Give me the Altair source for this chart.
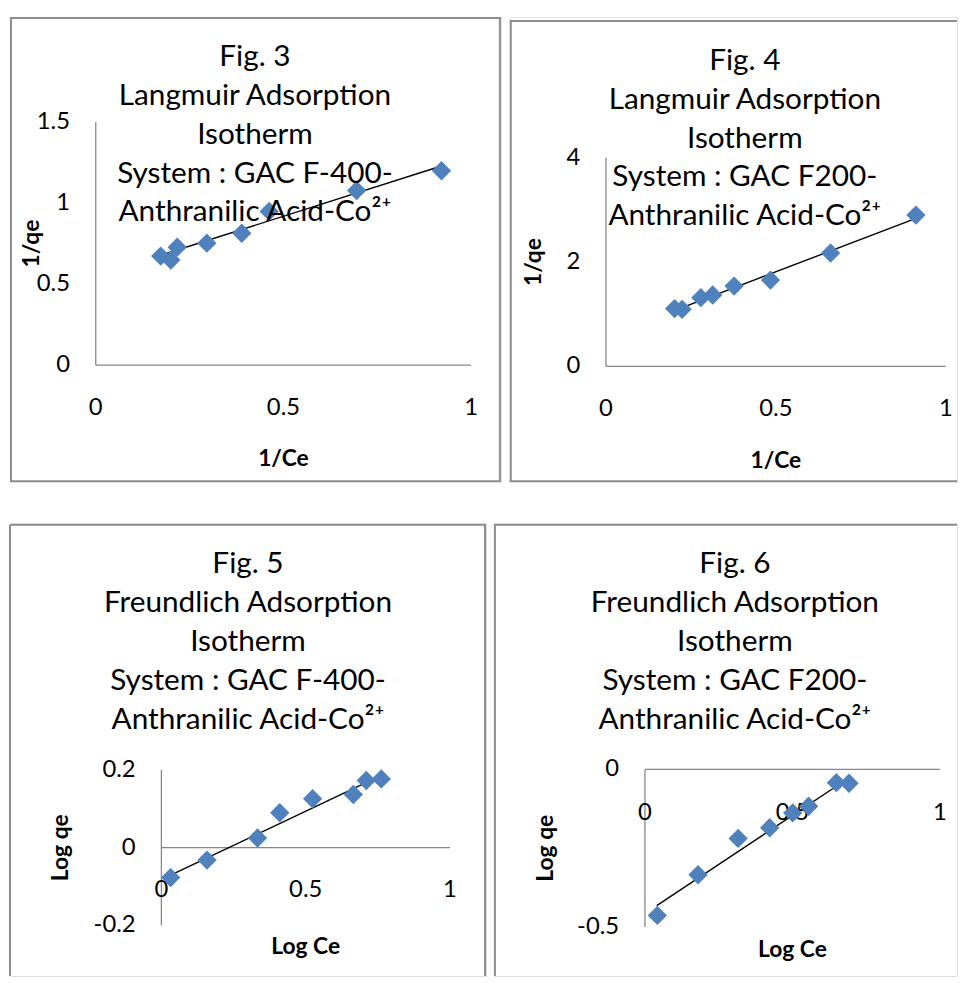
import altair as alt
import pandas as pd

# ---------------- data ----------------
# Fig. 3  Langmuir, GAC F-400
f3_x = [0.173, 0.200, 0.217, 0.296, 0.389, 0.462, 0.695, 0.921]
f3_y = [0.673, 0.649, 0.728, 0.753, 0.814, 0.949, 1.078, 1.200]
f3_fit_x = [0.173, 0.921]
f3_fit_y = [0.678, 1.229]
f3_xticks = [0, 0.5, 1]
f3_yticks = [0, 0.5, 1, 1.5]

# Fig. 4  Langmuir, GAC F200
f4_x = [0.202, 0.224, 0.279, 0.314, 0.377, 0.484, 0.661, 0.912]
f4_y = [1.109, 1.095, 1.318, 1.369, 1.540, 1.655, 2.174, 2.902]
f4_fit_x = [0.205, 0.912]
f4_fit_y = [1.080, 2.840]
f4_xticks = [0, 0.5, 1]
f4_yticks = [0, 2, 4]

# Fig. 5  Freundlich, GAC F-400
f5_x = [0.032, 0.158, 0.333, 0.410, 0.524, 0.665, 0.710, 0.762]
f5_y = [-0.077, -0.032, 0.025, 0.090, 0.126, 0.137, 0.173, 0.177]
f5_fit_x = [0.034, 0.762]
f5_fit_y = [-0.070, 0.186]
f5_xticks = [0, 0.5, 1]
f5_yticks = [-0.2, 0, 0.2]

# Fig. 6  Freundlich, GAC F200
f6_x = [0.042, 0.180, 0.316, 0.423, 0.501, 0.555, 0.649, 0.692]
f6_y = [-0.463, -0.334, -0.219, -0.185, -0.138, -0.117, -0.042, -0.044]
f6_fit_x = [0.040, 0.695]
f6_fit_y = [-0.432, -0.025]
f6_xticks = [0, 0.5, 1]
f6_yticks = [-0.5, 0]

titles = {
    3: ["Fig. 3", "Langmuir Adsorption", "Isotherm", "System : GAC F-400-", "Anthranilic Acid-Co\u00b2\u207a"],
    4: ["Fig. 4", "Langmuir Adsorption", "Isotherm", "System : GAC F200-", "Anthranilic Acid-Co\u00b2\u207a"],
    5: ["Fig. 5", "Freundlich Adsorption", "Isotherm", "System : GAC F-400-", "Anthranilic Acid-Co\u00b2\u207a"],
    6: ["Fig. 6", "Freundlich Adsorption", "Isotherm", "System : GAC F200-", "Anthranilic Acid-Co\u00b2\u207a"],
}

FONT = "Lato"
BLUE = "#4F81BD"
AXIS_GREY = "#868686"
BORDER_GREY = "#8c8c8c"
TITLE_SIZE = 30
TICK_SIZE = 24
AXTITLE_SIZE = 23


def fmt(v):
    return "%g" % v


def domain(size, px_a, px_b, a, b):
    k = (px_b - px_a) / (b - a)
    v0 = a + (0 - px_a) / k
    v1 = a + (size - px_a) / k
    return sorted([v0, v1])


def panel(W, H, xs_px, ys_px, xr, yr, cross_y, px, py, fx, fy, xticks, yticks,
          title_lines, title_xy, xtitle, xtitle_y, ytitle, ytitle_x, tick_dy,
          borders):
    xd = domain(W, xs_px[0], xs_px[1], xr[0], xr[1])
    yd = domain(H, ys_px[0], ys_px[1], yr[0], yr[1])
    xs = alt.Scale(domain=xd, nice=False, zero=False)
    ys = alt.Scale(domain=yd, nice=False, zero=False)

    def X(f):
        return alt.X(f, type="quantitative", scale=xs, axis=None)

    def Y(f):
        return alt.Y(f, type="quantitative", scale=ys, axis=None)

    xaxis = alt.Chart(pd.DataFrame({"x": [xr[0]], "x2": [xr[1]], "y": [cross_y]})).mark_rule(
        color=AXIS_GREY, strokeWidth=1.3
    ).encode(x=X("x"), x2="x2:Q", y=Y("y"))
    yaxis = alt.Chart(pd.DataFrame({"x": [0], "y": [yr[0]], "y2": [yr[1]]})).mark_rule(
        color=AXIS_GREY, strokeWidth=1.3
    ).encode(x=X("x"), y=Y("y"), y2="y2:Q")

    xt = pd.DataFrame({"v": xticks, "c": [cross_y] * len(xticks), "t": [fmt(v) for v in xticks]})
    yt = pd.DataFrame({"v": yticks, "c": [0] * len(yticks), "t": [fmt(v) for v in yticks]})
    xlab = alt.Chart(xt).mark_text(font=FONT, fontSize=TICK_SIZE, dy=tick_dy, baseline="middle",
                                   align="center", color="black").encode(
        x=X("v"), y=Y("c"), text="t:N")
    ylab = alt.Chart(yt).mark_text(font=FONT, fontSize=TICK_SIZE, dx=-26, baseline="middle",
                                   align="right", color="black").encode(
        x=X("c"), y=Y("v"), text="t:N")

    fit = alt.Chart(pd.DataFrame({"x": fx, "y": fy})).mark_line(
        color="black", strokeWidth=1.4).encode(x=X("x"), y=Y("y"))
    pts = alt.Chart(pd.DataFrame({"x": px, "y": py})).mark_point(
        shape="diamond", filled=True, size=380, color=BLUE, opacity=1).encode(
        x=X("x"), y=Y("y"))

    xtitle_c = alt.Chart(pd.DataFrame({"m": [(xr[0] + xr[1]) / 2], "t": [xtitle]})).mark_text(
        font=FONT, fontSize=AXTITLE_SIZE, fontWeight="bold", baseline="middle", align="center",
        color="black").encode(x=X("m"), y=alt.value(xtitle_y), text="t:N")
    ytitle_c = alt.Chart(pd.DataFrame({"m": [(yr[0] + yr[1]) / 2], "t": [ytitle]})).mark_text(
        font=FONT, fontSize=AXTITLE_SIZE, fontWeight="bold", baseline="middle", align="center",
        angle=270, color="black").encode(x=alt.value(ytitle_x), y=Y("m"), text="t:N")

    title_c = alt.Chart(pd.DataFrame({"k": [0]})).mark_text(
        font=FONT, fontSize=TITLE_SIZE, align="center", baseline="alphabetic", lineHeight=39.3,
        color="black").encode(x=alt.value(title_xy[0]), y=alt.value(title_xy[1]),
                              text=alt.value(title_lines))

    layers = [xaxis, yaxis, xlab, ylab, fit, pts, title_c, xtitle_c, ytitle_c]
    bdf = pd.DataFrame({"k": [0]})
    top, left, right, bottom = borders
    if top is not None:
        layers.append(alt.Chart(bdf).mark_rule(color=BORDER_GREY, strokeWidth=2).encode(
            x=alt.value(0), x2=alt.value(W), y=alt.value(top)))
    if left is not None:
        layers.append(alt.Chart(bdf).mark_rule(color=BORDER_GREY, strokeWidth=2).encode(
            x=alt.value(left), y=alt.value(top if top is not None else 0), y2=alt.value(H)))
    if right is not None:
        layers.append(alt.Chart(bdf).mark_rule(color=BORDER_GREY, strokeWidth=2).encode(
            x=alt.value(right), y=alt.value(top if top is not None else 0), y2=alt.value(H)))
    if bottom is not None:
        layers.append(alt.Chart(bdf).mark_rule(color=BORDER_GREY, strokeWidth=2).encode(
            x=alt.value(0), x2=alt.value(W), y=alt.value(bottom)))
    return alt.layer(*layers).properties(width=W, height=H)


p3 = panel(495, 469, (86.5, 465.0), (351.0, 106.0), (0, 1), (0, 1.5), 0,
           f3_x, f3_y, f3_fit_x, f3_fit_y, f3_xticks, f3_yticks,
           titles[3], (247, 49), "1/Ce", 446, "1/qe", 22, 43,
           (1, 1, 494, 468))
p4 = panel(451, 469, (97.0, 439.7), (352.3, 142.0), (0, 1), (0, 4), 0,
           f4_x, f4_y, f4_fit_x, f4_fit_y, f4_xticks, f4_yticks,
           titles[4], (237, 53), "1/Ce", 448, "1/qe", 24, 43,
           (4, 1, None, 468))
p5 = panel(480, 456, (152.7, 443.7), (248.3, 405.0), (0, 1), (0.2, -0.2), 0,
           f5_x, f5_y, f5_fit_x, f5_fit_y, f5_xticks, f5_yticks,
           titles[5], (240, 50), "Log Ce", 427, "Log qe", 52, 43,
           (1, 0, 479, None))
p6 = panel(467, 456, (152.3, 449.7), (247.7, 406.7), (0, 1), (0, -0.5), 0,
           f6_x, f6_y, f6_fit_x, f6_fit_y, f6_xticks, f6_yticks,
           titles[6], (243, 50), "Log Ce", 430, "Log qe", 53, 44,
           (1, 1, None, None))

row1 = alt.hconcat(p3, p4, spacing=5)
row2 = alt.hconcat(p5, p6, spacing=4)
chart = alt.vconcat(row1, row2, spacing=39).properties(
    padding={"top": 4, "left": 0, "right": 0, "bottom": 0}
).configure_view(stroke=None).configure(background="white")

chart.save("out.html", embed_options={"renderer": "svg", "actions": False})
